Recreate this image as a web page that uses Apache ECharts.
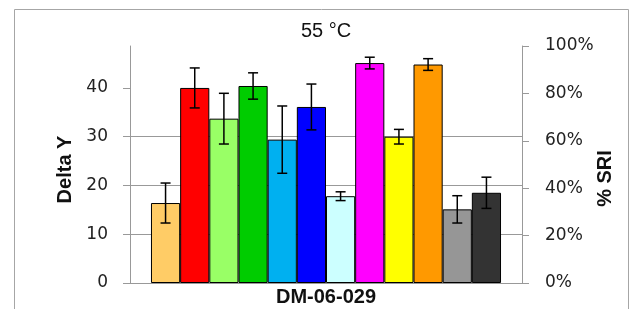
<!DOCTYPE html>
<html>
<head>
<meta charset="utf-8">
<script src="https://cdn.jsdelivr.net/npm/echarts@6/dist/echarts.min.js"></script>
<style>
  html, body { margin: 0; padding: 0; background: #fff; }
  #chart { width: 631px; height: 309px; }
</style>
</head>
<body>
<div id="chart"></div>
<script>
// one sample group, 12 bars
var categories = ["DM-06-029"];
var deltaY = [16.4, 40.0, 33.7, 40.4, 29.4, 36.1, 17.8, 45.1, 30.0, 44.8, 15.1, 18.5];
var errors = [4.1, 4.1, 5.2, 2.7, 6.9, 4.7, 0.9, 1.2, 1.5, 1.2, 2.8, 3.2];
var barColors = ["#FFCC66", "#FF0000", "#99FF66", "#00CC00", "#00B0F0", "#0000FF",
                 "#CCFFFF", "#FF00FF", "#FFFF00", "#FF9900", "#969696", "#333333"];
var leftTicks = [0, 10, 20, 30, 40];

var gapRatio = 0.107;
var chart = echarts.init(document.getElementById("chart"));

var series = [];
for (var i = 0; i < deltaY.length; i++) {
  series.push({
    name: "S" + (i + 1),
    type: "bar",
    data: [deltaY[i]],
    barGap: "0%",
    barCategoryGap: (gapRatio * 100) + "%",
    itemStyle: { color: barColors[i], borderColor: "#000", borderWidth: 1 },
    animation: false
  });
}

var errData = [];
for (var j = 0; j < deltaY.length; j++) {
  errData.push([0, deltaY[j], errors[j]]);
}

series.push({
  type: "custom",
  data: errData,
  encode: { x: 0, y: 1 },
  z: 10,
  clip: false,
  animation: false,
  renderItem: function (params, api) {
    var n = deltaY.length;
    var idx = params.dataIndex;
    var catW = api.size([1, 0])[0];
    var bw = catW * (1 - gapRatio) / n;
    var mean = api.value(1), err = api.value(2);
    var cx = api.coord([0, mean])[0] + (idx - (n - 1) / 2) * bw;
    var yTop = api.coord([0, mean + err])[1];
    var yBot = api.coord([0, mean - err])[1];
    var cap = 5;
    var st = { stroke: "#000", lineWidth: 1.5 };
    return {
      type: "group",
      children: [
        { type: "line", shape: { x1: cx, y1: yTop, x2: cx, y2: yBot }, style: st },
        { type: "line", shape: { x1: cx - cap, y1: yTop, x2: cx + cap, y2: yTop }, style: st },
        { type: "line", shape: { x1: cx - cap, y1: yBot, x2: cx + cap, y2: yBot }, style: st }
      ]
    };
  }
});

chart.setOption({
  backgroundColor: "#fff",
  animation: false,
  graphic: [{
    type: "rect",
    left: 12, top: 7,
    shape: { width: 614, height: 320 },
    style: { fill: "none", stroke: "#A6A6A6", lineWidth: 1 },
    silent: true
  }],
  title: {
    text: "55 °C",
    left: 296,
    top: 16,
    textStyle: { fontFamily: "Liberation Sans", fontSize: 20, fontWeight: "normal", color: "#111" }
  },
  grid: { left: 130, right: 109, top: 46, bottom: 26 },
  xAxis: {
    type: "category",
    data: categories,
    axisLine: { lineStyle: { color: "#999" } },
    axisTick: { show: false },
    axisLabel: {
      margin: 4,
      fontFamily: "Liberation Sans", fontSize: 20, fontWeight: "bold", color: "#111"
    }
  },
  yAxis: [{
    type: "value",
    min: 0, max: 48.6, interval: 10,
    name: "Delta Y",
    nameLocation: "middle",
    nameRotate: 90,
    nameGap: 55,
    nameMoveOverlap: false,
    nameTextStyle: {
      fontFamily: "Liberation Sans", fontSize: 20, fontWeight: "bold", color: "#111",
      padding: [0, 10, 0, 0]
    },
    axisLine: { show: true, lineStyle: { color: "#999" } },
    axisTick: { show: true, length: 7, lineStyle: { color: "#999" }, customValues: leftTicks },
    axisLabel: {
      margin: 22, fontFamily: "DejaVu Sans", fontSize: 17, color: "#222",
      customValues: leftTicks
    },
    splitLine: { show: true, showMinLine: false, showMaxLine: false, lineStyle: { color: "#999" } }
  }, {
    type: "value",
    min: 0, max: 1, interval: 0.2,
    name: "% SRI",
    nameLocation: "middle",
    nameRotate: 90,
    nameGap: 73,
    nameMoveOverlap: false,
    nameTextStyle: {
      fontFamily: "Liberation Sans", fontSize: 20, fontWeight: "bold", color: "#111",
      padding: [0, 28, 0, 0]
    },
    axisLine: { show: true, lineStyle: { color: "#999" } },
    axisTick: { show: true, length: 7, lineStyle: { color: "#999" } },
    axisLabel: {
      margin: 23, fontFamily: "DejaVu Sans", fontSize: 17, color: "#222",
      formatter: function (v) { return Math.round(v * 100) + "%"; }
    },
    splitLine: { show: false }
  }],
  series: series
});
</script>
</body>
</html>
